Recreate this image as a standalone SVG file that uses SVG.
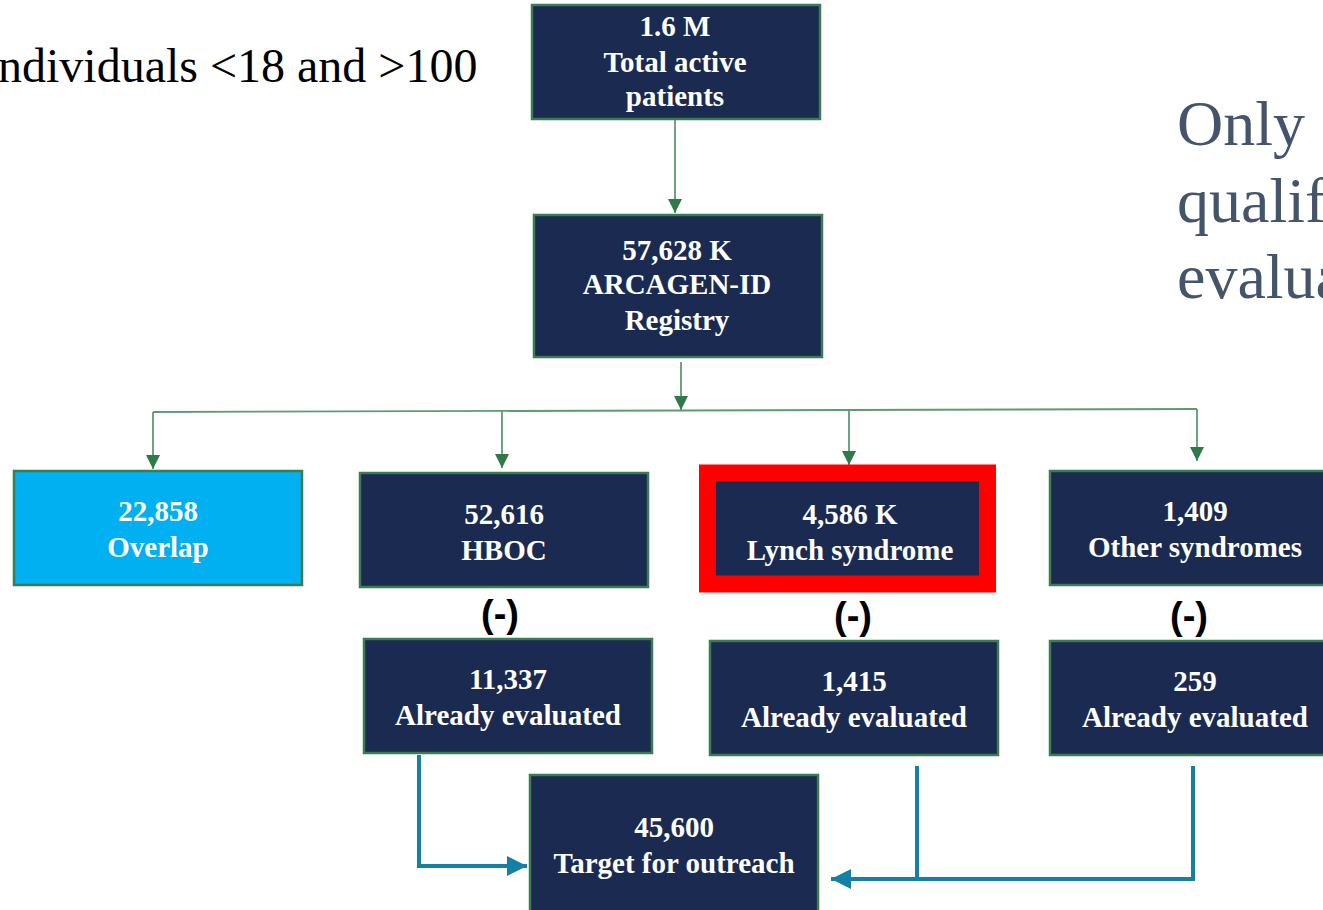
<svg xmlns="http://www.w3.org/2000/svg" width="1323" height="910" viewBox="0 0 1323 910">
<defs>
<marker id="ga" viewBox="0 0 10 10" refX="10" refY="5" markerWidth="14" markerHeight="14" markerUnits="userSpaceOnUse" orient="auto"><path d="M0,0 L10,5 L0,10 Z" fill="#2f7a48"/></marker>
<marker id="ba" viewBox="0 0 10 10" refX="10" refY="5" markerWidth="5" markerHeight="5.5" orient="auto"><path d="M0,0 L10,5 L0,10 Z" fill="#1380a6"/></marker>
<style>
.box{fill:#1a2a50;stroke:#3b7d50;stroke-width:2.5}
.t{font-family:"Liberation Serif","Times New Roman",serif;font-weight:bold;font-size:29px;fill:#fff;text-anchor:middle}
.g{fill:none;stroke:#5f9a74;stroke-width:1.8}
.b{fill:none;stroke:#1380a6;stroke-width:4}
.m{font-family:"Liberation Sans",Arial,sans-serif;font-weight:bold;font-size:38px;fill:#000;text-anchor:middle}
</style>
</defs>
<rect width="1323" height="910" fill="#fff"/>
<text x="-2" y="82" font-family="Liberation Serif,Times New Roman,serif" font-size="48" fill="#000">ndividuals &lt;18 and &gt;100</text>
<g id="note" font-family="Liberation Serif,Times New Roman,serif" font-size="64" fill="#44546a">
<text x="1177" y="145">Only</text>
<text x="1177" y="222">qualif</text>
<text x="1177" y="298">evalua</text>
</g>
<g id="connectors">
<path class="g" d="M675,119 V213" marker-end="url(#ga)"/>
<path class="g" d="M681,362 V410" marker-end="url(#ga)"/>
<path class="g" d="M153,412 L1197,409"/>
<path class="g" d="M153,412 V469" marker-end="url(#ga)"/>
<path class="g" d="M502,411 V468" marker-end="url(#ga)"/>
<path class="g" d="M849,410 V465" marker-end="url(#ga)"/>
<path class="g" d="M1197,409 V461" marker-end="url(#ga)"/>
<path class="b" d="M419,755 V866 H527" marker-end="url(#ba)"/>
<path class="b" d="M917,766 V879"/>
<path class="b" d="M1193,766 V879 H831" marker-end="url(#ba)"/>
</g>
<g id="n-total"><rect class="box" x="532" y="5" width="288" height="114"/>
<text class="t" x="675" y="36">1.6 M</text><text class="t" x="675" y="72">Total active</text><text class="t" x="675" y="106">patients</text></g>
<g id="n-registry"><rect class="box" x="534" y="215" width="288" height="142"/>
<text class="t" x="677" y="260">57,628 K</text><text class="t" x="677" y="294">ARCAGEN-ID</text><text class="t" x="677" y="330">Registry</text></g>
<g id="n-overlap"><rect class="box" x="14" y="471" width="288" height="114" style="fill:#00b0f0"/>
<text class="t" x="158" y="521">22,858</text><text class="t" x="158" y="557">Overlap</text></g>
<g id="n-hboc"><rect class="box" x="360" y="473" width="288" height="114"/>
<text class="t" x="504" y="524">52,616</text><text class="t" x="504" y="560">HBOC</text></g>
<g id="n-lynch"><rect x="707.5" y="473" width="280" height="111" fill="#1a2a50" stroke="#ff0000" stroke-width="17"/>
<text class="t" x="850" y="524">4,586 K</text><text class="t" x="850" y="560">Lynch syndrome</text></g>
<g id="n-other"><rect class="box" x="1050" y="471" width="290" height="114"/>
<text class="t" x="1195" y="521">1,409</text><text class="t" x="1195" y="557">Other syndromes</text></g>
<text class="m" x="500" y="627">(-)</text>
<text class="m" x="853" y="629">(-)</text>
<text class="m" x="1189" y="629">(-)</text>
<g id="n-hboc-eval"><rect class="box" x="364" y="639" width="288" height="114"/>
<text class="t" x="508" y="689">11,337</text><text class="t" x="508" y="725">Already evaluated</text></g>
<g id="n-lynch-eval"><rect class="box" x="710" y="641" width="288" height="114"/>
<text class="t" x="854" y="691">1,415</text><text class="t" x="854" y="727">Already evaluated</text></g>
<g id="n-other-eval"><rect class="box" x="1050" y="641" width="290" height="114"/>
<text class="t" x="1195" y="691">259</text><text class="t" x="1195" y="727">Already evaluated</text></g>
<g id="n-target"><rect class="box" x="530" y="775" width="288" height="145"/>
<text class="t" x="674" y="837">45,600</text><text class="t" x="674" y="873">Target for outreach</text></g>
</svg>
